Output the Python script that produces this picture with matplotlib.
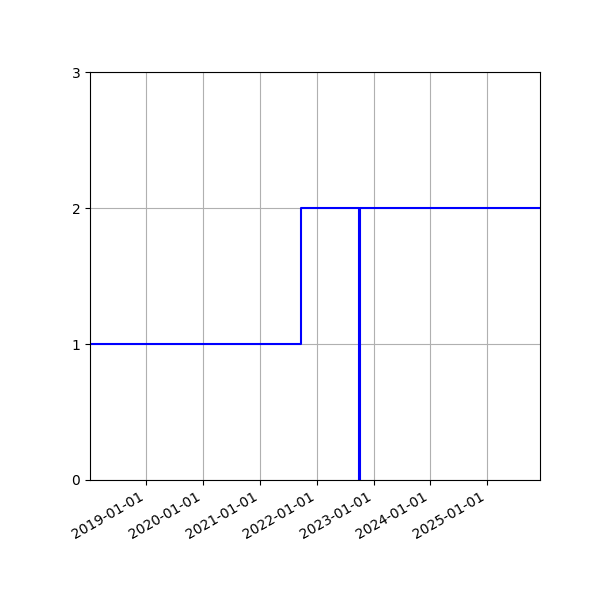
import matplotlib
matplotlib.use("Agg")
import matplotlib.pyplot as plt
import matplotlib.dates as mdates
import numpy as np

dates = np.array(['2018-01-03', '2021-09-21', '2022-10-01', '2022-10-05', '2025-12-07'], dtype='datetime64[D]')
values = [1, 2, 0, 2, 2]
yticks = [0, 1, 2, 3]

fig, ax = plt.subplots(figsize=(6, 6), dpi=100)
ax.plot(dates, values, drawstyle='steps-post', color='blue')
ax.set_xlim(dates[0], dates[-1])
ax.set_ylim(0, 3)
ax.set_yticks(yticks)
ax.xaxis.set_major_locator(mdates.YearLocator())
ax.xaxis.set_major_formatter(mdates.DateFormatter('%Y-%m-%d'))
ax.grid(True)
fig.autofmt_xdate()
fig.subplots_adjust(left=0.15, right=0.9, top=0.88, bottom=0.2)
fig.savefig('out.png', dpi=100)
